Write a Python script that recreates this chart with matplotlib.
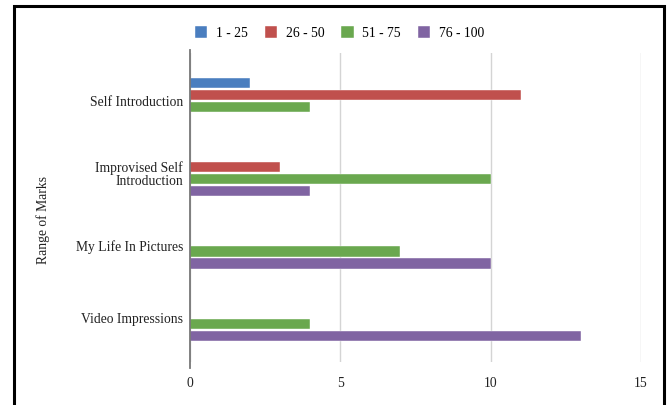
import matplotlib
matplotlib.use("Agg")
import matplotlib.pyplot as plt
from matplotlib.patches import Rectangle
import numpy as np

categories = ["Self Introduction", "Improvised Self\nIntroduction", "My Life In Pictures", "Video Impressions"]
series_names = ["1 - 25", "26 - 50", "51 - 75", "76 - 100"]
s_1_25 = [2, 0, 0, 0]
s_26_50 = [11, 3, 0, 0]
s_51_75 = [4, 10, 7, 4]
s_76_100 = [0, 4, 10, 13]
x_ticks = [0, 5, 10, 15]
colors = ["#4a7ebf", "#c0504d", "#6aa84f", "#8064a2"]

plt.rcParams["font.family"] = ["Liberation Serif", "DejaVu Serif"]

fig = plt.figure(figsize=(6.67, 4.05), dpi=100)
ax = fig.add_axes([190/667, 43/405, 451/667, 309/405])

series = [s_1_25, s_26_50, s_51_75, s_76_100]
y = np.arange(len(categories))
pitch = 0.166
h = 0.14
for i, (vals, name, c) in enumerate(zip(series, series_names, colors)):
    off = (i - 1.5) * pitch
    ax.barh(y + off, vals, height=h, color=c, label=name, zorder=3,
            edgecolor="white", linewidth=0.3)

ax.set_xlim(0, 15)
ax.set_ylim(3.61, -0.66)
ax.set_xticks(x_ticks)
ax.set_xticklabels([str(t) for t in x_ticks], fontsize=9.8, color="#222222")
ax.set_yticks(y)
ax.set_yticklabels(categories, fontsize=9.8, color="#222222", linespacing=1.0)
ax.tick_params(axis="both", length=0)
ax.tick_params(axis="x", pad=11)
ax.tick_params(axis="y", pad=5)
for s in ax.spines.values():
    s.set_visible(False)
ax.grid(axis="x", color="#d4d4d4", linewidth=1.0, zorder=0)
ax.set_axisbelow(True)
ax.plot([0, 0], [-0.02, 1.01], transform=ax.get_xaxis_transform(),
        color="#777777", linewidth=1.3, clip_on=False, zorder=4)

fig.text(43/667, 1 - 220/405, "Range of Marks", rotation=90, ha="center",
         va="center", fontsize=9.8, color="#222222")

fig.legend(loc="center", bbox_to_anchor=(0.509, 1 - 33/405), ncol=4,
           frameon=False, fontsize=9.8, handlelength=0.9, handleheight=0.9,
           columnspacing=1.25, handletextpad=0.65)

fig.patches.append(Rectangle((14/667, -0.05), 650/667, 1.05 - 6/405,
                             transform=fig.transFigure, fill=False,
                             edgecolor="black", linewidth=2.2))

fig.savefig("out.png", dpi=100)
